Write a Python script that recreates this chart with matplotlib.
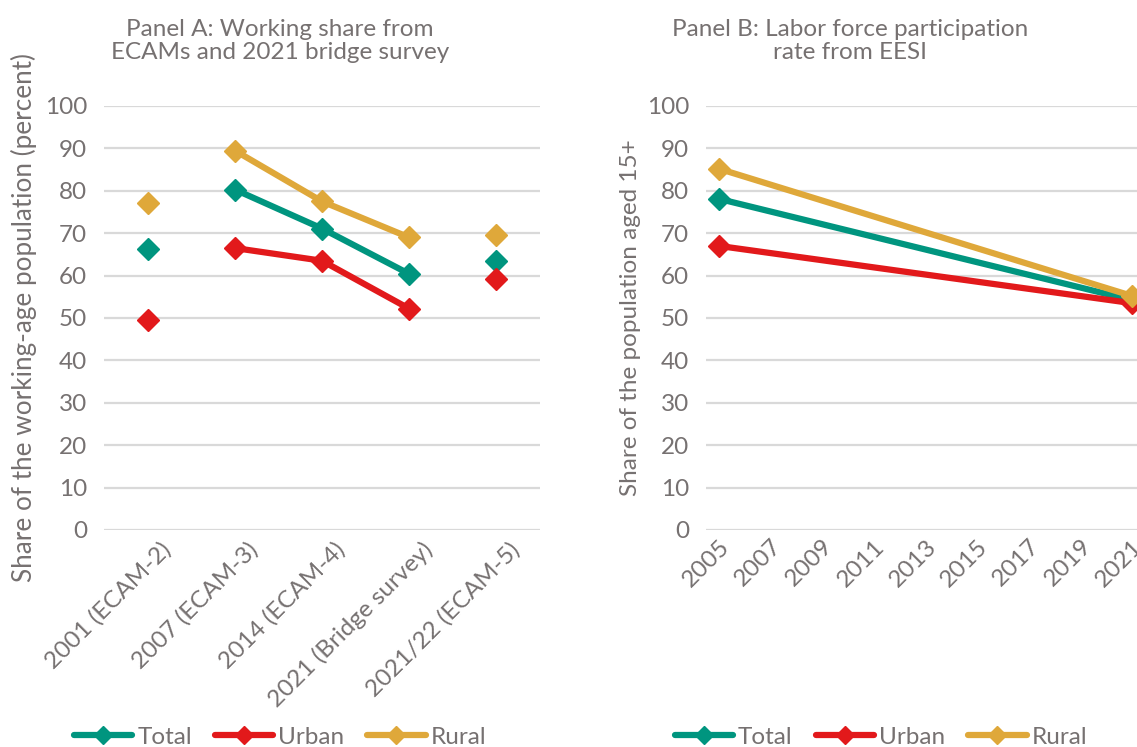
import numpy as np
import matplotlib
matplotlib.use('Agg')
import matplotlib.pyplot as plt
from matplotlib.transforms import ScaledTranslation

# Panel A data (ECAMs + bridge survey)
surveys = ['2001 (ECAM-2)', '2007 (ECAM-3)', '2014 (ECAM-4)', '2021 (Bridge survey)', '2021/22 (ECAM-5)']
a_total = [66.3, 80.3, 71.1, 60.4, 63.5]
a_urban = [49.6, 66.5, 63.5, 52.2, 59.3]
a_rural = [77.1, 89.5, 77.5, 69.0, 69.6]
a_linked = [False, True, True, True, False]

# Panel B data (EESI)
eesi_years = [2005, 2021]
b_total = [78.1, 54.2]
b_urban = [67.0, 53.5]
b_rural = [85.2, 55.2]
b_ticks = list(range(2005, 2022, 2))

COLORS = {'Total': '#00957F', 'Urban': '#E2191B', 'Rural': '#DFA83A'}
GREY = '#767171'
GRID = '#D9D9D9'

plt.rcParams['font.family'] = ['Lato', 'DejaVu Sans']
plt.rcParams['text.color'] = GREY
plt.rcParams['axes.labelcolor'] = GREY
plt.rcParams['xtick.color'] = GREY
plt.rcParams['ytick.color'] = GREY

FS = 17.5
MS = 11
LW = 4.5


def style_axis(ax):
    ax.set_ylim(0, 100)
    ax.set_yticks(range(0, 101, 10))
    ax.yaxis.grid(True, color=GRID, linewidth=1.6)
    ax.set_axisbelow(True)
    for s in ax.spines.values():
        s.set_visible(False)
    ax.tick_params(length=0, labelsize=FS)
    ax.tick_params(axis='y', pad=12)


fig = plt.figure(figsize=(11.37, 7.47), dpi=100)

# ---- Panel A ----
axA = fig.add_axes([104 / 1137, 217 / 747, 436 / 1137, 424 / 747])
style_axis(axA)
x = np.arange(len(surveys))
link = np.array(a_linked)
for name, vals in [('Total', a_total), ('Urban', a_urban), ('Rural', a_rural)]:
    v = np.array(vals)
    axA.plot(x[link], v[link], color=COLORS[name], linewidth=LW, solid_capstyle='round', zorder=3)
    axA.plot(x, v, linestyle='none', marker='D', markersize=MS, color=COLORS[name], zorder=4)
axA.set_xlim(-0.5, len(surveys) - 0.5)
axA.set_xticks(x)
axA.set_xticklabels(surveys, rotation=45, ha='right', va='top', rotation_mode='anchor')
axA.tick_params(axis='x', pad=6)
shift = ScaledTranslation(12 / 100, 0, fig.dpi_scale_trans)
for lbl in axA.get_xticklabels():
    lbl.set_transform(lbl.get_transform() + shift)
axA.set_ylabel('Share of the working-age population (percent)', fontsize=18.8, labelpad=6)
fig.text(280 / 1137, 1 - 41 / 747, 'Panel A: Working share from\nECAMs and 2021 bridge survey',
         ha='center', va='center', fontsize=FS, linespacing=1.1)

# ---- Panel B ----
axB = fig.add_axes([706 / 1137, 217 / 747, 439 / 1137, 424 / 747])
style_axis(axB)
for name, vals in [('Total', b_total), ('Urban', b_urban), ('Rural', b_rural)]:
    axB.plot(eesi_years, vals, color=COLORS[name], linewidth=LW, marker='D', markersize=MS,
             solid_capstyle='round', zorder=3)
axB.set_xlim(2004.5, 2021.5)
axB.set_xticks(b_ticks)
axB.set_xticklabels([str(t) for t in b_ticks], rotation=45, ha='right', va='top', rotation_mode='anchor')
axB.tick_params(axis='x', pad=4)
axB.set_ylabel('Share of the population aged 15+', fontsize=FS, labelpad=4)
fig.text(850 / 1137, 1 - 41 / 747, 'Panel B: Labor force participation\nrate from EESI',
         ha='center', va='center', fontsize=FS, linespacing=1.1)

# legends
handles = [plt.Line2D([], [], color=COLORS[n], linewidth=LW, marker='D', markersize=9,
                      solid_capstyle='round') for n in COLORS]
for cx in (280 / 1137, 881 / 1137):
    fig.legend(handles, list(COLORS), loc='center', bbox_to_anchor=(cx, 10 / 747), ncol=3,
               frameon=False, fontsize=FS, handlelength=2.4, handletextpad=0.2,
               columnspacing=0.95, borderpad=0)

fig.savefig('out.png', dpi=100)
